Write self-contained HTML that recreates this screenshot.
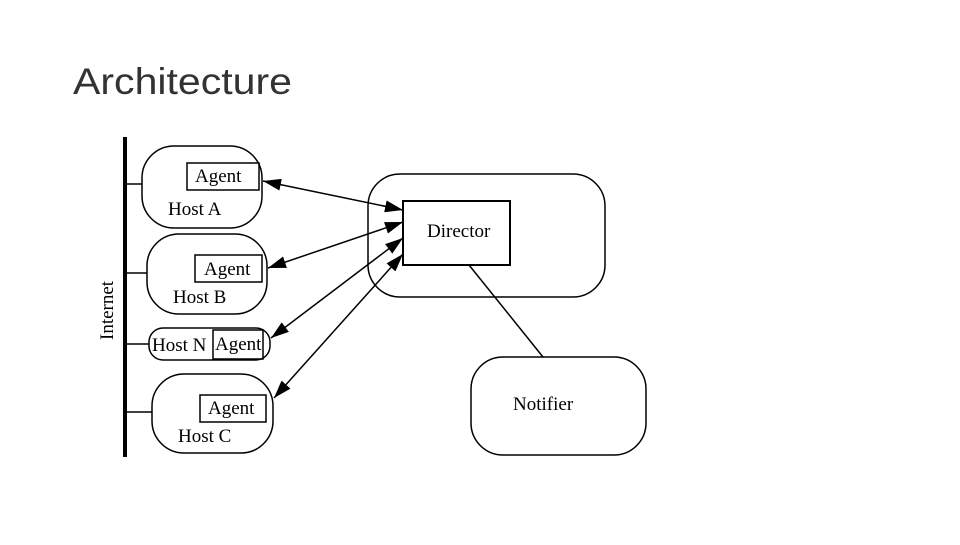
<!DOCTYPE html>
<html><head><style>
body{margin:0;width:960px;height:540px;background:#fff;overflow:hidden}
</style></head><body>
<svg width="960" height="540" viewBox="0 0 960 540" xmlns="http://www.w3.org/2000/svg">
<defs>
<marker id="ah" markerWidth="18" markerHeight="12" refX="18" refY="6" orient="auto-start-reverse" markerUnits="userSpaceOnUse" viewBox="0 0 18 12">
<path d="M0,0 L18,6 L0,12 z" fill="#000"/>
</marker>
</defs>
<text x="73" y="94" font-family="Liberation Sans, sans-serif" font-size="37" fill="#333" textLength="219" lengthAdjust="spacingAndGlyphs">Architecture</text>
<g font-family="Liberation Serif, serif" fill="none" stroke="#000">
<rect x="123" y="137" width="4" height="320" fill="#000" stroke="none"/>
<line x1="127" y1="184" x2="142" y2="184" stroke-width="1.5"/>
<line x1="127" y1="273" x2="147" y2="273" stroke-width="1.5"/>
<line x1="127" y1="344" x2="149" y2="344" stroke-width="1.5"/>
<line x1="127" y1="412" x2="152" y2="412" stroke-width="1.5"/>
<rect x="142" y="146" width="120" height="82" rx="32" stroke-width="1.5"/>
<rect x="147" y="234" width="120" height="80" rx="32" stroke-width="1.5"/>
<rect x="149" y="328" width="121" height="32" rx="14" stroke-width="1.5"/>
<rect x="152" y="374" width="121" height="79" rx="32" stroke-width="1.5"/>
<rect x="187" y="163" width="72" height="27" stroke-width="1.5"/>
<rect x="195" y="255" width="67" height="27" stroke-width="1.5"/>
<rect x="213" y="330" width="50" height="29" stroke-width="1.5"/>
<rect x="200" y="395" width="66" height="27" stroke-width="1.5"/>
<rect x="368" y="174" width="237" height="123" rx="32" stroke-width="1.5"/>
<rect x="403" y="201" width="107" height="64" stroke-width="2"/>
<rect x="471" y="357" width="175" height="98" rx="32" stroke-width="1.5"/>
<line x1="469" y1="265" x2="543" y2="357" stroke-width="1.5"/>
<g stroke-width="1.5" marker-start="url(#ah)" marker-end="url(#ah)">
<line x1="263" y1="181" x2="403" y2="210"/>
<line x1="268" y1="268" x2="403" y2="222"/>
<line x1="271" y1="338" x2="403" y2="238"/>
<line x1="274" y1="398" x2="403" y2="254"/>
</g>
</g>
<g font-family="Liberation Serif, serif" font-size="19" fill="#000">
<text x="195" y="182">Agent</text>
<text x="168" y="215">Host A</text>
<text x="204" y="275">Agent</text>
<text x="173" y="303">Host B</text>
<text x="152" y="351">Host N</text>
<text x="215" y="350">Agent</text>
<text x="208" y="414">Agent</text>
<text x="178" y="442">Host C</text>
<text x="427" y="237">Director</text>
<text x="513" y="410">Notifier</text>
<text transform="translate(113,340) rotate(-90)">Internet</text>
</g>
</svg>
</body></html>
